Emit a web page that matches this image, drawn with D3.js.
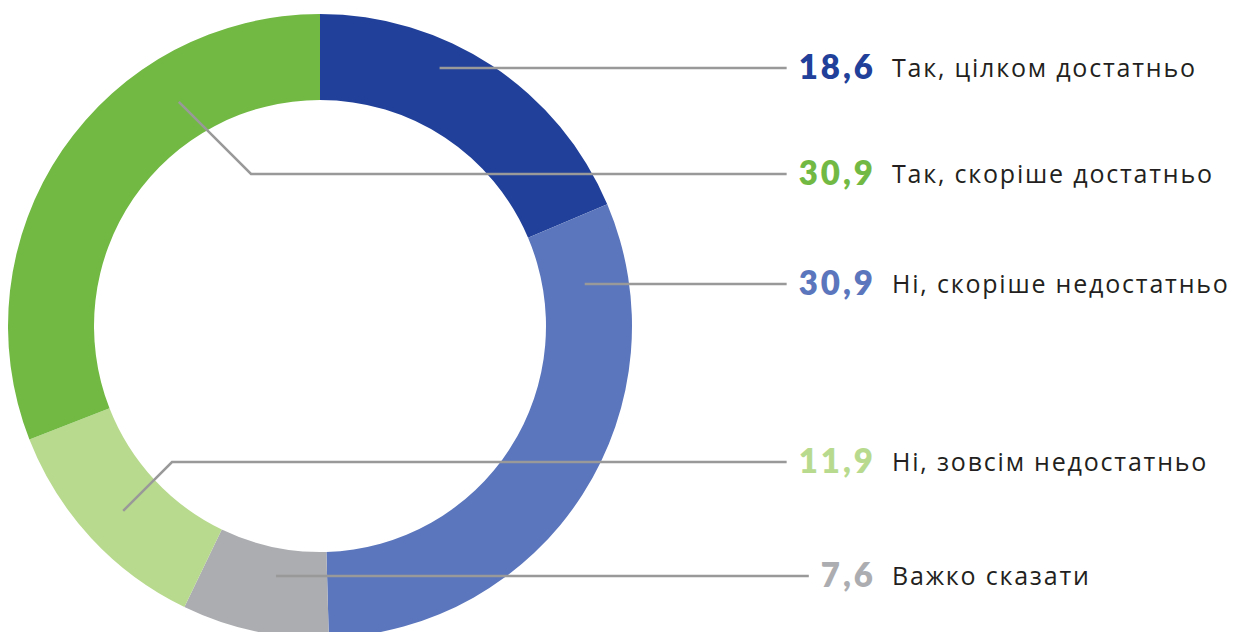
<!DOCTYPE html>
<html>
<head>
<meta charset="utf-8" />
<title>Donut</title>
<script src="https://d3js.org/d3.v7.min.js"></script>
<style>
    body { margin: 0; background: #fff; }
    .leader { fill: none; stroke: #999999; stroke-width: 2.5; }
    .val { font-family: Lato, "Open Sans", sans-serif; font-weight: 800; font-size: 33px; letter-spacing: 3px; }
    .lbl { font-family: "Open Sans", Lato, sans-serif; font-size: 25px; fill: #231f20; letter-spacing: 1.8px; }
</style>
</head>
<body>
<svg id="chart"></svg>
<script>
    // data
    var categories = ['Так, цілком достатньо', 'Ні, скоріше недостатньо', 'Важко сказати', 'Ні, зовсім недостатньо', 'Так, скоріше достатньо'];
    var values = [18.6, 30.9, 7.6, 11.9, 30.9];
    var colors = ['#21409a', '#5b76bc', '#acadb1', '#b8da8e', '#72b944'];
    // legend order (top to bottom), as indexes into categories
    var legendOrder = [0, 4, 1, 3, 2];

    var width = 1237, height = 632;
    var cx = 320, cy = 326, outerR = 312, innerR = 226;
    var legendY = [68, 174, 284, 462, 576];
    var valueRight = 876, labelX = 892;
    // where each leader line begins inside its slice (angle in degrees, radius)
    var leaderAngle = [24.9, 81, 190, 226.8, 327.8];
    var leaderR = [284, 268, 254, 270, 265];

    var svg = d3.select('#chart').attr('width', width).attr('height', height);
    var g = svg.append('g').attr('transform', `translate(${cx},${cy})`);

    var pie = d3.pie().sort(null).value(function (d) { return d; });
    var arc = d3.arc().innerRadius(innerR).outerRadius(outerR);
    var arcs = pie(values);

    g.selectAll('path.slice')
        .data(arcs)
        .enter()
        .append('path')
        .attr('class', 'slice')
        .attr('d', arc)
        .attr('fill', function (d, i) { return colors[i]; });

    var leg = svg.append('g');

    legendOrder.forEach(function (idx, row) {
        var y = legendY[row];
        var t = leg.append('text')
            .attr('class', 'val')
            .attr('x', valueRight)
            .attr('y', y + 11)
            .attr('text-anchor', 'end')
            .attr('fill', colors[idx])
            .text(String(values[idx]).replace('.', ','));
        var bw = t.node().getBBox();

        leg.append('text')
            .attr('class', 'lbl')
            .attr('x', labelX)
            .attr('y', y + 9)
            .text(categories[idx]);

        var a = leaderAngle[idx] * Math.PI / 180;
        var sx = cx + leaderR[idx] * Math.sin(a);
        var sy = cy - leaderR[idx] * Math.cos(a);
        var endX = bw.x - 12;
        var pts;
        if (Math.abs(sy - y) < 2) {
            pts = [[sx, y], [endX, y]];
        } else {
            // diagonal at 45 degrees to the row, then horizontal
            var dy = y - sy;
            var dir = sx < cx ? 1 : -1;
            pts = [[sx, sy], [sx + Math.abs(dy) * dir, y], [endX, y]];
        }
        leg.append('path')
            .attr('class', 'leader')
            .attr('d', d3.line()(pts));
    });
</script>
</body>
</html>
